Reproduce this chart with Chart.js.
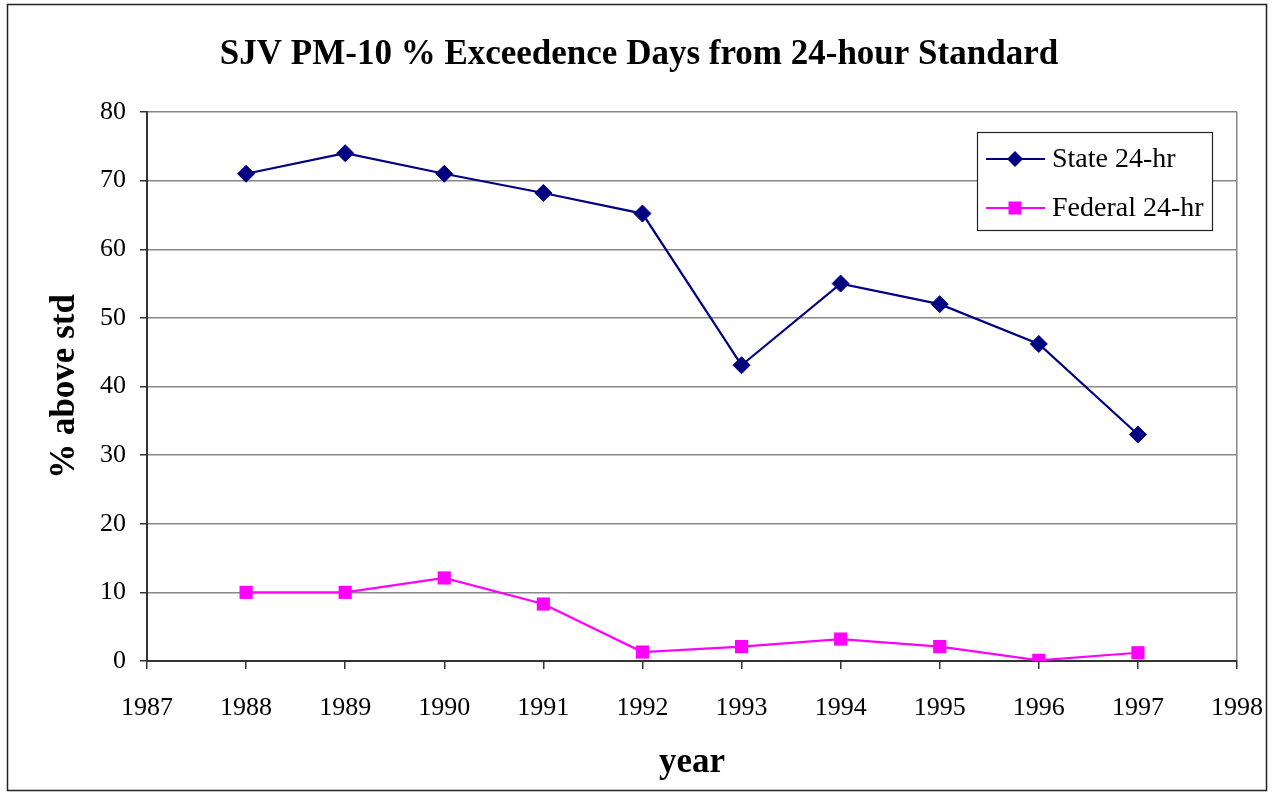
<!DOCTYPE html>
<html>
<head>
<meta charset="utf-8">
<script src="https://cdn.jsdelivr.net/npm/chart.js@4/dist/chart.umd.min.js"></script>
<style>
  html, body { margin: 0; padding: 0; background: #fff; }
  #wrap { width: 1279px; height: 792px; }
</style>
</head>
<body>
<div id="wrap"><canvas id="chart" width="1279" height="792"></canvas></div>
<script>
// === DATA ===
const years = [1988, 1989, 1990, 1991, 1992, 1993, 1994, 1995, 1996, 1997];
const stateVals = [71, 74, 71, 68.2, 65.2, 43.1, 55, 52, 46.2, 33];
const federalVals = [10, 10, 12.1, 8.3, 1.3, 2.1, 3.2, 2.1, 0.1, 1.2];
const xRange = [1987, 1998];
const yTicks = [0, 10, 20, 30, 40, 50, 60, 70, 80];
const chartTitle = 'SJV PM-10 % Exceedence Days from 24-hour Standard';

const serif = '"Liberation Serif", "Times New Roman", serif';
const pts = vals => years.map((y, i) => ({ x: y, y: vals[i] }));

// white background, outer frame, centred title
const frame = {
  id: 'frame',
  beforeDraw(chart) {
    const c = chart.ctx;
    c.save();
    c.fillStyle = '#fff';
    c.fillRect(0, 0, chart.width, chart.height);
    c.restore();
  },
  afterDraw(chart) {
    const c = chart.ctx;
    c.save();
    c.strokeStyle = '#222';
    c.lineWidth = 1.5;
    c.strokeRect(7.5, 4.5, 1259, 786);
    c.fillStyle = '#000';
    c.font = 'bold 35px ' + serif;
    c.textAlign = 'center';
    c.textBaseline = 'middle';
    c.fillText(chartTitle, 639, 55);
    c.restore();
  }
};

// legend box with line + marker samples
const boxLegend = {
  id: 'boxLegend',
  afterDraw(chart) {
    const c = chart.ctx;
    const x0 = 977, y0 = 132, w = 235, h = 98;
    c.save();
    c.fillStyle = '#fff';
    c.fillRect(x0, y0, w, h);
    c.strokeStyle = '#222';
    c.lineWidth = 1.2;
    c.strokeRect(x0 + 0.5, y0 + 0.5, w, h);
    chart.data.datasets.forEach((ds, i) => {
      const y = [159, 208][i];
      const mx = 1015;
      c.strokeStyle = ds.borderColor;
      c.lineWidth = 2;
      c.beginPath();
      c.moveTo(986, y);
      c.lineTo(1045, y);
      c.stroke();
      c.fillStyle = ds.pointBackgroundColor;
      c.beginPath();
      if (ds.pointStyle === 'rectRot') {
        const r = 8;
        c.moveTo(mx, y - r); c.lineTo(mx + r, y); c.lineTo(mx, y + r); c.lineTo(mx - r, y);
      } else {
        const s = 6.5;
        c.rect(mx - s, y - s, 2 * s, 2 * s);
      }
      c.closePath();
      c.fill();
      c.fillStyle = '#000';
      c.font = '28px ' + serif;
      c.textBaseline = 'middle';
      c.textAlign = 'left';
      c.fillText(ds.label, 1052, y + 1);
    });
    c.restore();
  }
};

new Chart(document.getElementById('chart'), {
  type: 'line',
  data: {
    datasets: [
      {
        label: 'State 24-hr',
        data: pts(stateVals),
        borderColor: '#000080',
        backgroundColor: '#000080',
        pointBackgroundColor: '#000080',
        pointBorderColor: '#000080',
        pointBorderWidth: 1,
        pointStyle: 'rectRot',
        pointRadius: 8.5,
        borderWidth: 2.2,
        tension: 0
      },
      {
        label: 'Federal 24-hr',
        data: pts(federalVals),
        borderColor: '#FF00FF',
        backgroundColor: '#FF00FF',
        pointBackgroundColor: '#FF00FF',
        pointBorderColor: '#FF00FF',
        pointBorderWidth: 0,
        pointStyle: 'rect',
        pointRadius: 9.3,
        borderWidth: 2.2,
        tension: 0
      }
    ]
  },
  options: {
    responsive: false,
    animation: false,
    layout: { padding: { left: 0, right: 42, top: 112, bottom: 0 } },
    plugins: {
      legend: { display: false },
      tooltip: { enabled: false },
      title: { display: false }
    },
    scales: {
      x: {
        type: 'linear',
        min: xRange[0],
        max: xRange[1],
        afterFit: s => { s.height = 131; s.paddingLeft = 0; s.paddingRight = 0; },
        ticks: {
          stepSize: 1,
          color: '#000',
          padding: 24,
          font: { family: serif, size: 26 },
          callback: v => String(v)
        },
        grid: {
          color: ctx => (ctx.tick && ctx.tick.value === xRange[1]) ? '#888' : 'rgba(0,0,0,0)',
          tickColor: '#333',
          tickLength: 8,
          lineWidth: 1.5
        },
        border: { color: '#333', width: 2 },
        title: {
          display: true,
          text: 'year',
          color: '#000',
          font: { family: serif, size: 35, weight: 'bold', lineHeight: 1.2 },
          padding: { top: 0, bottom: 8 }
        }
      },
      y: {
        min: yTicks[0],
        max: yTicks[yTicks.length - 1],
        afterFit: s => { s.width = 147; s.paddingTop = 0; s.paddingBottom = 0; },
        afterBuildTicks: s => { s.ticks = yTicks.map(v => ({ value: v })); },
        ticks: {
          color: '#000',
          padding: 14,
          font: { family: serif, size: 26 }
        },
        grid: {
          color: '#888',
          tickColor: '#333',
          tickLength: 7,
          lineWidth: 1.5
        },
        border: { color: '#333', width: 2 },
        title: {
          display: true,
          text: '% above std',
          color: '#000',
          font: { family: serif, size: 35, weight: 'bold', lineHeight: 1.2 },
          padding: { top: 44, bottom: 0 }
        }
      }
    }
  },
  plugins: [frame, boxLegend]
});
</script>
</body>
</html>
